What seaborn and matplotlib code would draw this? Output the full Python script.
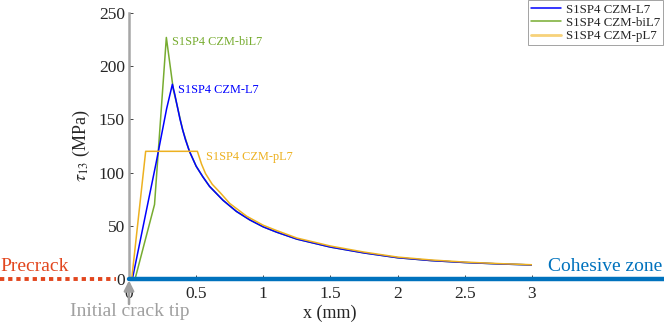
import matplotlib
matplotlib.use('Agg')
import matplotlib.pyplot as plt
import pandas as pd
import seaborn as sns

# shear stress tau_13 along the interface
X_L7 = [0.025, 0.20, 0.28, 0.323, 0.34, 0.36, 0.38, 0.40, 0.42, 0.45, 0.50, 0.55, 0.60,
        0.70, 0.80, 0.90, 1.00, 1.10, 1.25, 1.40, 1.50, 1.75, 2.00, 2.25, 2.50, 2.75, 3.00]
Y_L7 = [0, 108, 160, 183, 174, 162, 150, 140, 131, 120, 106, 96, 87,
        74, 63.5, 55.5, 49, 44, 37.5, 33, 30, 24.5, 20, 17.3, 15.5, 14.2, 13.2]

X_BIL7 = [0.045, 0.19, 0.278, 0.33, 0.36, 0.40, 0.45, 0.50, 0.55, 0.60, 0.70, 0.80, 0.90,
          1.00, 1.10, 1.25, 1.40, 1.50, 1.75, 2.00, 2.25, 2.50, 2.75, 3.00]
Y_BIL7 = [0, 70, 227, 178, 162, 140, 120, 106, 96, 87, 74, 63.5, 55.5,
          49, 44, 37.5, 33, 30, 24.5, 20, 17.3, 15.5, 14.2, 13.2]

X_PL7 = [0.02, 0.124, 0.509, 0.54, 0.57, 0.62, 0.68, 0.75, 0.876, 1.00, 1.10, 1.25, 1.40,
         1.50, 1.75, 2.00, 2.25, 2.50, 2.75, 3.00]
Y_PL7 = [0, 120, 120, 108, 99, 89, 81, 71, 59, 50.5, 45.5, 38.5, 34,
         31, 25.3, 20.6, 17.9, 15.9, 14.5, 13.4]

LABELS = ['S1SP4 CZM-L7', 'S1SP4 CZM-biL7', 'S1SP4 CZM-pL7']
COLORS = ['#0000FF', '#77AC30', '#EDB120']
LEGEND_COLORS = ['#0000FF', '#77AC30', '#F7D27A']
X_TICKS = [0, 0.5, 1, 1.5, 2, 2.5, 3]
Y_TICKS = [0, 50, 100, 150, 200, 250]

sns.set_theme(style='white')
plt.rcParams['font.family'] = ['Liberation Serif', 'DejaVu Serif']
plt.rcParams['mathtext.fontset'] = 'stix'

fig = plt.figure(figsize=(6.64, 3.23), dpi=100)
ax = fig.add_axes([0.1943, 0.1362, 0.6067, 0.8236])

series = [(X_BIL7, Y_BIL7, 1), (X_L7, Y_L7, 0), (X_PL7, Y_PL7, 2)]
for xs, ys, i in series:
    df = pd.DataFrame({'x': xs, 'y': ys})
    sns.lineplot(data=df, x='x', y='y', ax=ax, color=COLORS[i], lw=1.1, sort=False, zorder=3)

ax.set_xlim(0, 3)
ax.set_ylim(0, 250)
ax.set_xticks(X_TICKS)
ax.set_xticklabels(['0', '0.5', '1', '1.5', '2', '2.5', '3'])
ax.set_yticks(Y_TICKS)
ax.tick_params(direction='in', length=3, width=0.6, colors='#262626', labelsize=12.5,
               left=True, bottom=True)
ax.tick_params(axis='y', pad=3)
ax.tick_params(axis='x', pad=5)
for s in ['top', 'right']:
    ax.spines[s].set_visible(False)
ax.spines['left'].set_color('#A6A6A6')
ax.spines['left'].set_linewidth(1.8)
ax.spines['bottom'].set_color('#262626')
ax.spines['bottom'].set_linewidth(0.6)
ax.spines['bottom'].set_zorder(5)

ax.set_xlabel('x (mm)', fontsize=13, color='#262626', va='center')
ax.set_ylabel(r'$\tau_{13}$ (MPa)', fontsize=13, color='#262626', labelpad=5)
ax.xaxis.set_label_coords(0.499, -0.128)

# curve labels
ax.text(0.32, 223, LABELS[1], color=COLORS[1], fontsize=8.8, va='center')
ax.text(0.365, 178, LABELS[0], color=COLORS[0], fontsize=8.8, va='center')
ax.text(0.573, 115, LABELS[2], color=COLORS[2], fontsize=8.8, va='center')

# cohesive zone and precrack lines in figure coordinates
y0 = 0.1362
fig.add_artist(plt.Line2D([0.1943, 1.0], [y0, y0], color='#0072BD', lw=3.2, zorder=2,
                          transform=fig.transFigure))
fig.add_artist(plt.Line2D([0.0, 0.175], [y0, y0], color='#E2461E', lw=2.8,
                          linestyle=(0, (1.1, 1.0)), transform=fig.transFigure))
fig.text(0.0, 0.176, 'Precrack', color='#E2461E', fontsize=14, va='center', ha='left')
fig.text(0.998, 0.174, 'Cohesive zone', color='#0072BD', fontsize=14, va='center', ha='right')

# initial crack tip arrow
ax.annotate('', xy=(0, 0), xytext=(0, -18), xycoords='data', textcoords='offset points',
            arrowprops=dict(arrowstyle='-|>', color='#A0A0A0', lw=1.8, mutation_scale=15,
                            shrinkA=0, shrinkB=1.0), annotation_clip=False)
fig.text(0.195, 0.036, 'Initial crack tip', color='#A0A0A0', fontsize=14,
         va='center', ha='center')

handles = [plt.Line2D([], [], color=c, lw=1.1 if i < 2 else 2.0) for i, c in enumerate(LEGEND_COLORS)]
leg = fig.legend(handles, LABELS, loc='upper right', bbox_to_anchor=(0.999, 0.999),
                 fontsize=9.3, frameon=True, fancybox=False, handlelength=2.3,
                 borderpad=0.25, labelspacing=0.1, handletextpad=0.4, borderaxespad=0)
leg.get_frame().set_edgecolor('#8C8C8C')
leg.get_frame().set_linewidth(0.7)

fig.savefig('out.png', dpi=100)
